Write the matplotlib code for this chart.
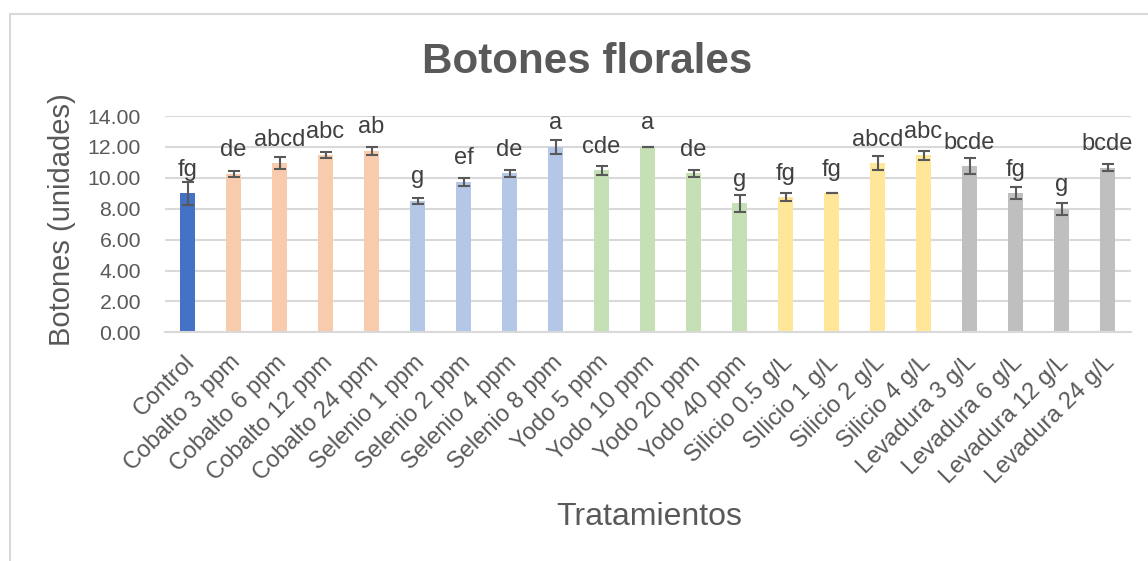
import matplotlib
matplotlib.use("Agg")
import matplotlib.pyplot as plt
from matplotlib.patches import Rectangle
from matplotlib.transforms import ScaledTranslation

plt.rcParams['font.family'] = ['Liberation Sans', 'DejaVu Sans']

categories = ["Control", "Cobalto 3 ppm", "Cobalto 6 ppm", "Cobalto 12 ppm", "Cobalto 24 ppm",
              "Selenio 1 ppm", "Selenio 2 ppm", "Selenio 4 ppm", "Selenio 8 ppm",
              "Yodo 5 ppm", "Yodo 10 ppm", "Yodo 20 ppm", "Yodo 40 ppm",
              "Silicio 0.5 g/L", "SIlicio 1 g/L", "Silicio 2 g/L", "Silicio 4 g/L",
              "Levadura 3 g/L", "Levadura 6 g/L", "Levadura 12 g/L", "Levadura 24 g/L"]
values = [9.0, 10.25, 10.95, 11.45, 11.75,
          8.5, 9.75, 10.3, 12.0,
          10.5, 12.0, 10.3, 8.35,
          8.75, 9.0, 10.95, 11.45,
          10.75, 9.0, 8.0, 10.65]
errors = [0.73, 0.2, 0.4, 0.2, 0.25,
          0.2, 0.26, 0.23, 0.43,
          0.29, 0.0, 0.23, 0.55,
          0.25, 0.0, 0.43, 0.29,
          0.5, 0.4, 0.4, 0.24]
letters = ["fg", "de", "abcd", "abc", "ab",
           "g", "ef", "de", "a",
           "cde", "a", "de", "g",
           "fg", "fg", "abcd", "abc",
           "bcde", "fg", "g", "bcde"]
groups = ["Control"] + ["Cobalto"] * 4 + ["Selenio"] * 4 + ["Yodo"] * 4 + ["Silicio"] * 4 + ["Levadura"] * 4
group_colors = {"Control": "#4472C4", "Cobalto": "#F8CBAD", "Selenio": "#B4C7E7",
                "Yodo": "#C5E0B4", "Silicio": "#FFE699", "Levadura": "#BFBFBF"}
yticks = [0, 2, 4, 6, 8, 10, 12, 14]

W, H = 1148, 561
fig = plt.figure(figsize=(W / 100, H / 100), dpi=100)
ax = fig.add_axes([164.5 / W, 1 - 332.3 / H, 966 / W, (332.3 - 116) / H])

x = list(range(len(categories)))
colors = [group_colors[g] for g in groups]
ax.bar(x, values, width=0.33, color=colors, zorder=2)
ax.errorbar(x, values, yerr=errors, fmt='none', ecolor='#595959', elinewidth=1.5,
            capsize=4.3, capthick=1.5, zorder=3)

for xi, v, lab in zip(x, values, letters):
    ax.annotate(lab, (xi, v), xytext=(0, 12.6), textcoords='offset points',
                ha='center', va='baseline', fontsize=17, color='#404040', clip_on=False)

ax.set_xlim(-0.5, len(categories) - 0.5)
ax.set_ylim(0, 14)
ax.set_yticks(yticks)
ax.set_yticklabels([f"{t:.2f}" for t in yticks])
ax.yaxis.grid(True, color='#D9D9D9', linewidth=1.5, zorder=0)
ax.set_axisbelow(True)
for s in ['top', 'right', 'left']:
    ax.spines[s].set_visible(False)
ax.spines['bottom'].set_color('#D9D9D9')
ax.spines['bottom'].set_linewidth(1.5)
ax.tick_params(axis='both', length=0, colors='#595959')
ax.tick_params(axis='y', labelsize=15.3, pad=17)
ax.set_xticks(x)
ax.set_xticklabels(categories, rotation=45, ha='right', rotation_mode='anchor', fontsize=17)
ax.tick_params(axis='x', pad=10)
off = ScaledTranslation(-4 / 100, -5 / 100, fig.dpi_scale_trans)
for lbl in ax.get_xticklabels():
    lbl.set_transform(lbl.get_transform() + off)

fig.text(587 / W, 1 - 73.3 / H, "Botones florales", ha='center', va='baseline',
         fontsize=30.3, fontweight='bold', color='#595959')
fig.text(62 / W, 1 - 220 / H, "Botones (unidades)", rotation=90, ha='center', va='center',
         fontsize=21, color='#595959')
fig.text(649 / W, 1 - 517 / H, "Tratamientos", ha='center', va='center',
         fontsize=23, color='#595959')

fig.add_artist(Rectangle((9.5 / W, -0.1), 1.2, 1 - 14 / H + 0.1, transform=fig.transFigure,
                         fill=False, edgecolor='#D9D9D9', linewidth=1.5))

fig.savefig("out.png", dpi=100, facecolor='white')
